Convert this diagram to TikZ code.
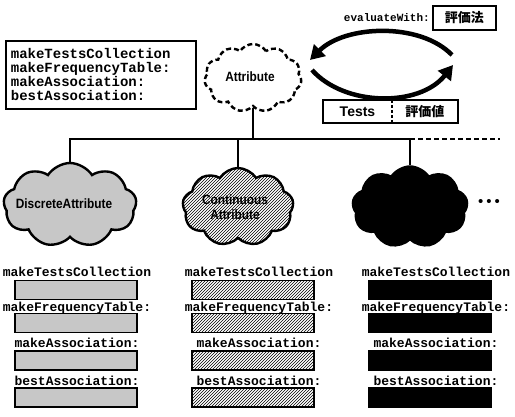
\documentclass[tikz,border=0pt]{standalone}
\usepackage{fontspec}
\setmainfont{Liberation Serif}
\setsansfont{Liberation Sans}
\setmonofont{Liberation Mono}
\newfontfamily\cloudfont[FakeStretch=0.88]{Liberation Sans}
\newfontfamily\jpfont{Noto Sans CJK JP}
\usetikzlibrary{shapes.symbols,arrows.meta,patterns,positioning}

\begin{document}
\begin{tikzpicture}[x=1pt,y=-1pt,
  method/.style={font=\ttfamily\bfseries\fontsize{13}{14}\selectfont, inner sep=0pt, anchor=base},
  slot/.style={draw, line width=1.5pt, minimum width=122, minimum height=19, inner sep=0pt},
  dotfill/.style={fill=black!22},
  hatchfill/.style={pattern=north east lines},
  solidfill/.style={fill=black},
  blob/.style={cloud, cloud puffs=9, cloud puff arc=115, cloud ignores aspect, draw, line width=2.4pt, inner sep=0pt},
  blobtext/.style={font=\cloudfont\bfseries\fontsize{13.5}{15}\selectfont, align=center, inner sep=0pt},
  bus/.style={line width=2.6pt},
  evalarrow/.style={line width=4.5pt, -{Triangle[length=14pt,width=16pt]}},
  frame/.style={draw, line width=1.8pt}]

  \useasboundingbox (0,0) rectangle (515,417);

  % protocol
  \node[frame, anchor=north west, align=left, text width=180pt, minimum height=68, inner sep=5pt,
    font=\ttfamily\bfseries\fontsize{14}{14}\selectfont] (protocol) at (5,40)
    {makeTestsCollection\\makeFrequencyTable:\\makeAssociation:\\bestAssociation:};

  % abstract class
  \node[blob, cloud puffs=11, dash pattern=on 5pt off 3pt, minimum width=97, minimum height=68] (attr) at (253,78) {};
  \node[blobtext] (attrlabel) at (250,77) {Attribute};

  % evaluation
  \node[font=\ttfamily\bfseries\fontsize{11}{11}\selectfont, anchor=east, inner sep=0pt] (evalwith) at (430,18) {evaluateWith:};
  \node[frame, font=\jpfont\bfseries\fontsize{13}{13}\selectfont, minimum width=63, minimum height=24,
    right=2pt of evalwith] (evalby) {評価法};
  \coordinate (evalR) at (452,55);
  \coordinate (evalL) at (310,60);
  \draw[evalarrow] (evalR) .. controls (420,22) and (345,25) .. (evalL);
  \coordinate (retL) at (312,70);
  \coordinate (retR) at (453,65);
  \draw[evalarrow] (retL) .. controls (345,107) and (420,107) .. (retR);

  \node[minimum width=69, minimum height=23, font=\sffamily\bfseries\fontsize{14}{14}\selectfont] (tests) at (357.5,111.5) {Tests};
  \node[minimum width=65, minimum height=23, font=\jpfont\bfseries\fontsize{13}{13}\selectfont,
    right=0pt of tests] (value) {評価値};
  \draw[frame] (tests.north west) rectangle (value.south east);
  \draw[line width=1.5pt, dash pattern=on 3pt off 2pt] (tests.north east) -- (tests.south east);

  % subclasses
  \node[blob, dotfill, minimum width=133, minimum height=84] (discrete) at (70,205) {};
  \node[blobtext] (discretelabel) at (64,204) {DiscreteAttribute};
  \node[blob, hatchfill, minimum width=111, minimum height=78] (continuous) at (238,207) {};
  \node[blobtext] (continuouslabel) at (235,207) {Continuous\\Attribute};
  \node[blob, solidfill, minimum width=115, minimum height=81] (other) at (410,207) {};
  \node[font=\sffamily\fontsize{15}{15}\selectfont] (more) at (489,203) {•\hspace{3pt}•\hspace{3pt}•};

  % hierarchy
  \coordinate (bus) at (0,139);
  \coordinate (busend) at (500,139);
  \draw[bus] (attr.south) -- (attr.south |- bus);
  \draw[bus] (discrete.north) |- (other.north |- bus) -- (other.north);
  \draw[bus] (continuous.north) -- (continuous.north |- bus);
  \draw[bus, dash pattern=on 5pt off 3pt] (other.north |- bus) -- (busend);

  % methods of each subclass
  \foreach \c/\lx/\bx/\pat in {1/77/76/dotfill, 2/259/253/hatchfill, 3/436/430/solidfill} {
    \node[method] (coll\c) at (\lx,277) {makeTestsCollection};
    \node[slot,\pat] (coll\c slot) at (\bx,290) {};
    \node[method] (freq\c) at (\lx,312) {makeFrequencyTable:};
    \node[slot,\pat] (freq\c slot) at (\bx,323) {};
    \node[method] (assoc\c) at (\lx,348) {makeAssociation:};
    \node[slot,\pat] (assoc\c slot) at (\bx,360.5) {};
    \node[method] (best\c) at (\lx,385) {bestAssociation:};
    \node[slot,\pat] (best\c slot) at (\bx,397.5) {};
  }
\end{tikzpicture}
\end{document}
